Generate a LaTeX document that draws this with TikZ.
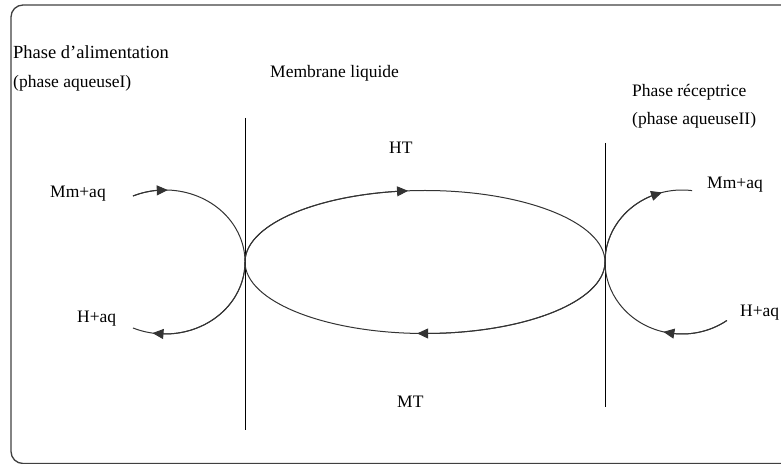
\documentclass[tikz,border=0pt]{standalone}
\usepackage{fontspec}
\setmainfont{Liberation Serif}
\usetikzlibrary{arrows.meta,bending}
\begin{document}
\begin{tikzpicture}[x=1pt,y=1pt,
  lbl/.style={font=\fontsize{17.5}{20}\selectfont, inner sep=0pt, anchor=base west},
  curve/.style={line width=1pt, draw=black!80},
  tip/.style={-{Triangle[length=11pt,width=10pt,flex]}},
  wall/.style={line width=0.9pt, draw=black}]
\useasboundingbox (0,0) rectangle (781,463);
\begin{scope}
  \clip (0,0) rectangle (781,463);
  \draw[line width=1.3pt, draw=black!75, rounded corners=12pt] (11,-0.5) rectangle (800,458);
\end{scope}
% membrane walls
\coordinate (L1) at (245,345); \coordinate (L2) at (245,33);
\coordinate (R1) at (605,320); \coordinate (R2) at (605,56);
\draw[wall] (L1) -- (L2);
\draw[wall] (R1) -- (R2);
% central ellipse
\coordinate (EC) at (425,201);
\draw[curve] (EC) ellipse[x radius=180, y radius=71.5];
\draw[curve,tip] (245,201) arc[start angle=180, end angle=95.4, x radius=180, y radius=71.5];
\draw[curve,tip] (605,201) arc[start angle=0, end angle=-92.5, x radius=180, y radius=71.5];
% left loop
\coordinate (LC) at (165,201);
\draw[curve] ([shift={(LC)}]113.6:80 and 72) arc[start angle=113.6, end angle=-113.6, x radius=80, y radius=72];
\draw[curve,tip] ([shift={(LC)}]113.6:80 and 72) arc[start angle=113.6, end angle=88, x radius=80, y radius=72];
\draw[curve,tip] ([shift={(LC)}]0:80 and 72) arc[start angle=0, end angle=-99, x radius=80, y radius=72];
% right loop
\coordinate (RC) at (682,201);
\draw[curve] ([shift={(RC)}]180:77 and 72) arc[start angle=180, end angle=82.5, x radius=77, y radius=72];
\draw[curve,tip] ([shift={(RC)}]180:77 and 72) arc[start angle=180, end angle=105, x radius=77, y radius=72];
\draw[curve] ([shift={(RC)}]-54.3:77 and 72) arc[start angle=-54.3, end angle=-180, x radius=77, y radius=72];
\draw[curve,tip] ([shift={(RC)}]-54.3:77 and 72) arc[start angle=-54.3, end angle=-104, x radius=77, y radius=72];
% labels
\node[lbl, font=\fontsize{18.5}{20}\selectfont] (alim1) at (13,404) {Phase d’alimentation};
\node[lbl] (alim2) at (13,375) {(phase aqueuseI)};
\node[lbl] (memb) at (270,385) {Membrane liquide};
\node[lbl] (rec1) at (632,366) {Phase réceptrice};
\node[lbl] (rec2) at (632,338) {(phase aqueuseII)};
\node[lbl] (ht) at (389,309) {HT};
\node[lbl] (mt) at (397,56) {MT};
\node[lbl] (mml) at (50,265) {Mm+aq};
\node[lbl] (hl) at (77,140) {H+aq};
\node[lbl] (mmr) at (707,274) {Mm+aq};
\node[lbl] (hr) at (740,146) {H+aq};
\end{tikzpicture}
\end{document}
